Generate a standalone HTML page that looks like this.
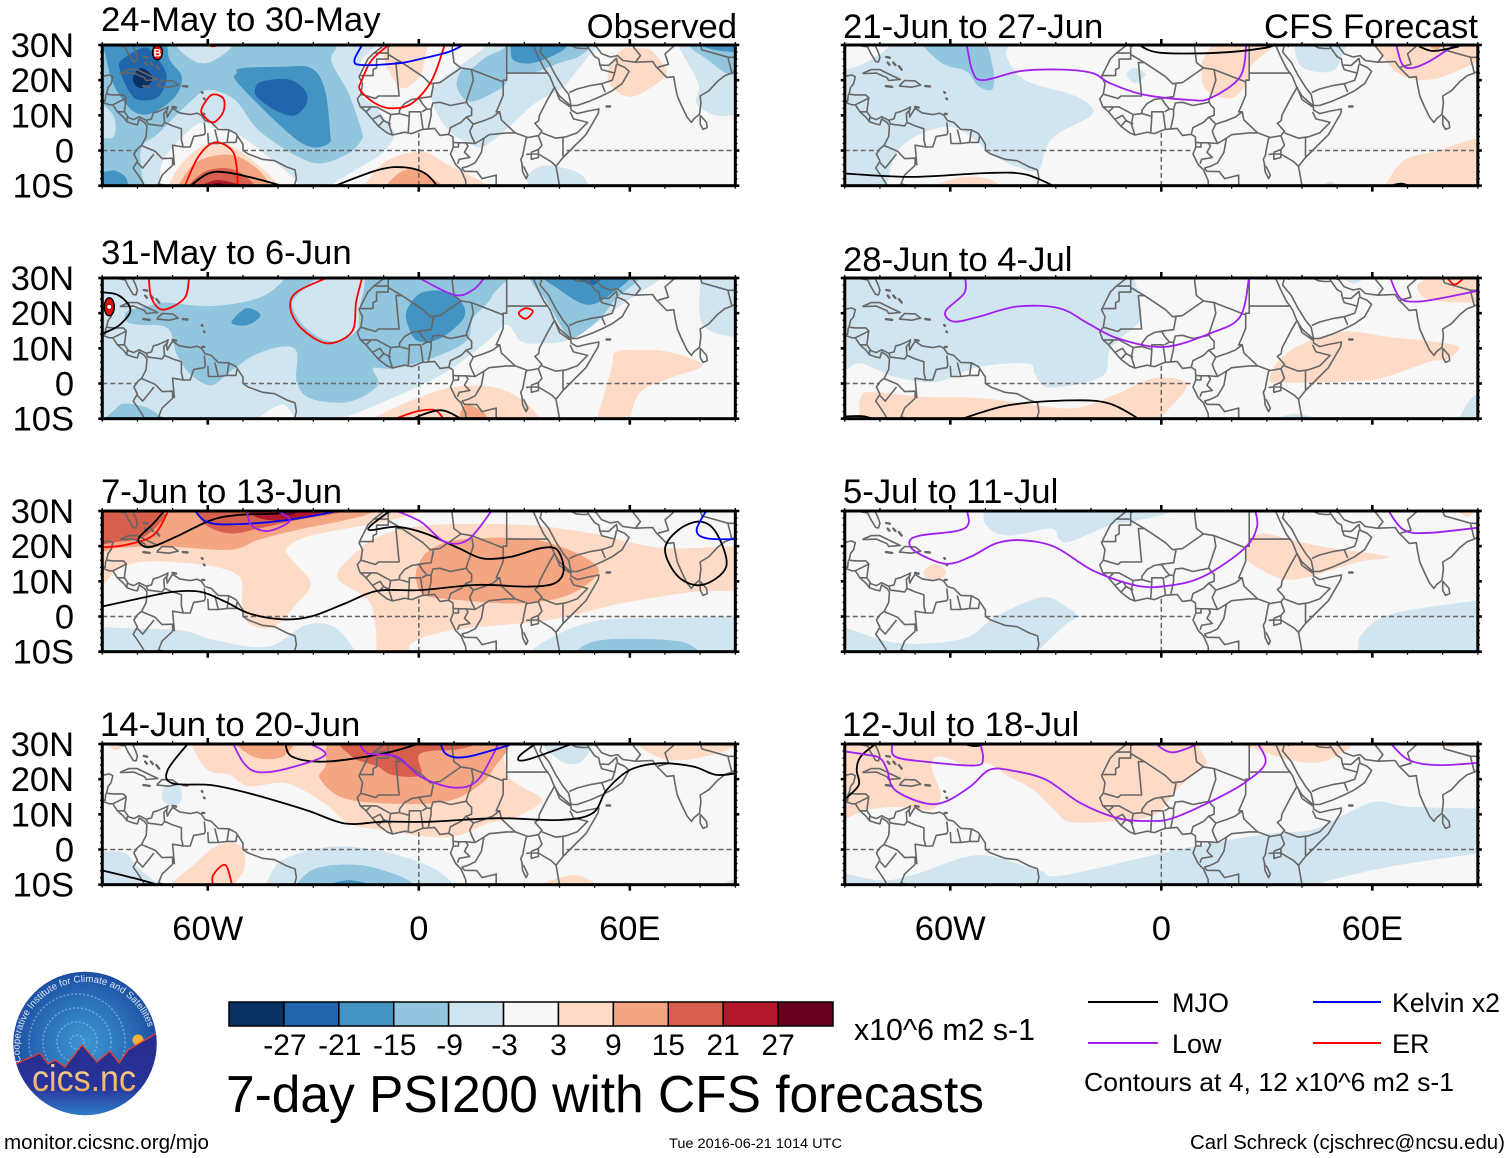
<!DOCTYPE html>
<html lang="en">
<head>
<meta charset="utf-8">
<title>7-day PSI200 with CFS forecasts</title>
<style>
html,body{margin:0;padding:0;background:#fff;}
svg{display:block;}
text{font-family:"Liberation Sans",sans-serif;fill:#000;}
</style>
</head>
<body>
<svg id="chart" xmlns="http://www.w3.org/2000/svg" width="1510" height="1158" viewBox="0 0 1510 1158">
<rect x="0" y="0" width="1510" height="1158" fill="#fff"/>
<g id="panels"></g>

<g font-size="34.7">
<text x="101" y="31">24-May to 30-May</text>
<text x="737" y="38" text-anchor="end">Observed</text>
<text x="101" y="264">31-May to 6-Jun</text>
<text x="101" y="503">7-Jun to 13-Jun</text>
<text x="100" y="736">14-Jun to 20-Jun</text>
<text x="843" y="38">21-Jun to 27-Jun</text>
<text x="1478" y="38" text-anchor="end">CFS Forecast</text>
<text x="843" y="271">28-Jun to 4-Jul</text>
<text x="843" y="503">5-Jul to 11-Jul</text>
<text x="842" y="736">12-Jul to 18-Jul</text>
</g>

<g id="colorbar"></g>
<text x="854" y="1040" font-size="30.3">x10^6 m2 s-1</text>
<text x="226" y="1112" font-size="51.5" textLength="758" lengthAdjust="spacingAndGlyphs">7-day PSI200 with CFS forecasts</text>

<g>
<line x1="1088" y1="1002" x2="1158" y2="1002" stroke="#000" stroke-width="2"/>
<text x="1172" y="1012" font-size="27">MJO</text>
<line x1="1313" y1="1002" x2="1381" y2="1002" stroke="#0000ff" stroke-width="2"/>
<text x="1392" y="1012" font-size="26.6">Kelvin x2</text>
<line x1="1088" y1="1043" x2="1158" y2="1043" stroke="#a020f0" stroke-width="2"/>
<text x="1172" y="1053" font-size="27">Low</text>
<line x1="1313" y1="1043" x2="1381" y2="1043" stroke="#ff0000" stroke-width="2"/>
<text x="1392" y="1053" font-size="27">ER</text>
<text x="1084" y="1091" font-size="26" textLength="370" lengthAdjust="spacingAndGlyphs">Contours at 4, 12 x10^6 m2 s-1</text>
</g>

<text x="4" y="1149" font-size="20" textLength="205" lengthAdjust="spacingAndGlyphs">monitor.cicsnc.org/mjo</text>
<text x="669" y="1148" font-size="13.4" textLength="173" lengthAdjust="spacingAndGlyphs">Tue 2016-06-21 1014 UTC</text>
<text x="1505" y="1149" font-size="20" text-anchor="end" textLength="315" lengthAdjust="spacingAndGlyphs">Carl Schreck (cjschrec@ncsu.edu)</text>

<g>
<defs>
<radialGradient id="sky" cx="0.5" cy="0.5" r="0.55">
<stop offset="0" stop-color="#3f96d4"/><stop offset="0.55" stop-color="#2a70ba"/><stop offset="1" stop-color="#1b479c"/>
</radialGradient>
<linearGradient id="ground" x1="0" y1="0" x2="0" y2="1">
<stop offset="0" stop-color="#2a2a8c"/><stop offset="0.62" stop-color="#27349a"/><stop offset="1" stop-color="#2f88d0"/>
</linearGradient>
<clipPath id="logoClip"><circle cx="85" cy="1043.4" r="71.7"/></clipPath>
<path id="logoArc" d="M 21 1062 A 65 65 0 1 1 150 1034" fill="none"/>
<linearGradient id="nc" x1="0" y1="0" x2="0" y2="1"><stop offset="0" stop-color="#f8dc9c"/><stop offset="1" stop-color="#eda452"/></linearGradient>
</defs>
<circle cx="85" cy="1043.4" r="71.7" fill="url(#sky)"/>
<g clip-path="url(#logoClip)" fill="none" stroke="#a8d0ee" stroke-opacity="0.55" stroke-width="1.5" stroke-dasharray="2 2">
<circle cx="77" cy="1042" r="7"/><circle cx="77" cy="1042" r="20"/><circle cx="77" cy="1042" r="34"/><circle cx="77" cy="1042" r="48"/>
</g>
<circle cx="138" cy="1040" r="5.5" fill="#f5b13d"/>
<g clip-path="url(#logoClip)">
<path d="M8 1066 L18 1063 L40 1053 L48 1064 L55 1060 L65 1067 L82 1045 L97 1062 L110 1051 L119 1063 L128 1050 L157 1033 L165 1120 L8 1120 Z" fill="url(#ground)" stroke="#e8402a" stroke-width="1.3"/>
</g>
<text font-size="9.6" style="fill:#dbe8f6" textLength="200"><textPath href="#logoArc">Cooperative Institute for Climate and Satellites</textPath></text>
<text x="84" y="1091" font-size="37" text-anchor="middle" textLength="104" lengthAdjust="spacingAndGlyphs" style="fill:url(#nc)">cics.nc</text>
</g>
</svg>

<script>
// ---------- colour scale ----------
const bandEdges = [-27,-21,-15,-9,-3,3,9,15,21,27];
const bandColors = ['#0a3163','#2166ac','#4393c3','#92c5de','#d1e5f0','#f7f7f7','#fddbc7','#f4a582','#d6604d','#b2182b','#67001f'];

// ---------- axis labels ----------
const latTickValues = [30,20,10,0,-10];
const latTickLabels = ['30N','20N','10N','0','10S'];
const lonTickValues = [-60,0,60];
const lonTickLabels = ['60W','0','60E'];

// ---------- line styles by wave type ----------
const waveColors = {M:'#000000',L:'#a020f0',K:'#0000ff',E:'#ff0000'};

// ---------- map geometry (lon, lat) ----------
const coastLines = [
[[-81,31],[-81.4,30],[-80.5,28],[-80,26.5],[-80.4,25.2],[-81.2,25.3],[-82.7,27.8],[-83.5,29.5],[-85,29.7],[-87,30.4],[-89.5,30.2],[-90,29.2],[-92,29.5]],
[[-92,18.6],[-90.5,21],[-88,21.5],[-87,21],[-87.5,19],[-88.3,18],[-88.8,16],[-87,15.8],[-84,15.8],[-83.2,15],[-83.6,12],[-83.7,11],[-82.5,9.3],[-81,8.8],[-79.5,9.6],[-77.5,8.6],[-76,9],[-75.5,10.7],[-74.3,11],[-72,12],[-71.3,12.4],[-71.7,11],[-71.5,9.5],[-70.8,10.8],[-70,12],[-68,10.7],[-65,10.2],[-63,10.6],[-61.8,10],[-60.8,8.5],[-59,8],[-57,6],[-54,5.9],[-52,4.8],[-50,1.8],[-50,0],[-48.5,-1],[-44.5,-2.5],[-41,-2.9],[-37.5,-4.7],[-35.2,-5.5],[-34.8,-8],[-35.5,-10.5]],
[[-92,14.5],[-90,13.7],[-88,13],[-87,13],[-85.7,11],[-84,9.5],[-83,8.2],[-81,7.5],[-80,7.3],[-79.5,9],[-78,8],[-77.3,7],[-77.5,4],[-78.8,1.5],[-80,0.5],[-81,-1],[-80,-3],[-81.2,-5],[-79.8,-7],[-78.5,-9],[-77.8,-10.5]],
[[-85,21.9],[-82.5,23],[-80,23],[-77,21.5],[-74.2,20.2],[-77.5,19.9],[-78,20.7],[-81,22],[-84,21.9],[-85,21.9]],
[[-74.4,18.5],[-73,19.9],[-70,19.8],[-68.4,18.6],[-71,18],[-74.4,18.3],[-74.4,18.5]],
[[-9,31.5],[-9.8,30],[-13,27.5],[-14.5,26],[-17,21],[-16,19],[-16.5,16],[-17.5,14.7],[-16.7,12.5],[-15,11],[-13.3,9],[-11.5,6.9],[-9,5],[-7.5,4.4],[-4,5.2],[-2,4.8],[1,6],[4.5,6.3],[6,4.3],[8.5,4.6],[9.7,3.9],[9.8,1],[9,-1],[10.5,-4],[12,-5.5],[13.3,-8.5],[13.5,-11]],
[[39.5,-11],[40,-10],[39.3,-6],[39,-4.5],[41,-2],[44,1],[47.5,4.5],[51,10.5],[51.2,11.8],[48,11.2],[45,10.5],[43.3,11.5],[43.2,12.7],[40,15.5],[38.5,18],[37.3,21],[35.5,23.5],[33.8,27],[32.5,30],[33,31]],
[[34.9,29.5],[34.5,28],[37,25],[38.8,21.5],[41,18],[42.6,16],[43.3,12.8],[45,12.8],[48.5,14],[52.2,15.6],[55,17],[57.8,19],[59.8,22.5],[58.5,23.7],[56.5,24.5],[56.2,26.2],[54,24.2],[51.5,24.3],[51.2,26],[50,26.7],[48,29.5],[48,30.3]],
[[48.5,30.2],[50.5,29.5],[52,27.5],[54.5,26.6],[56.5,27],[58,25.6],[61.5,25.1],[66.5,25.3],[67.5,23.8],[69,22.3],[70.5,20.8],[72.5,21],[72.8,19],[73.5,15.5],[74.8,12.5],[76.3,9.5],[77.5,8],[78.2,9],[79.8,10.3],[80.2,13.5],[80,15.5],[82.5,17],[85,19.7],[87,21.3],[89,22],[90.5,22.8]],
[[80,10],[81.8,8],[82,6.5],[80.8,6],[80,7.5],[80,10]],
[[32,-0.5],[34,0.3],[34,-2],[32,-2.5],[32,-0.5]],
[[29.3,-3.5],[29.5,-6],[30.5,-8],[31,-7],[29.8,-4.5]]
];
const islandBlobs = [
[[-78.3,18.3],[-76.5,18.1]],
[[-67.1,18.3],[-65.8,18.2]],
[[-78.2,26.6],[-77.2,26.4]],[[-77.8,25],[-77.3,24.4]],[[-76.2,25],[-75.6,24.3]],[[-74.6,24],[-73.8,23]],
[[-61.7,16.6],[-61.5,16.4]],[[-61.1,14.8],[-60.9,14.6]],
[[-61.6,10.4],[-61,10.4]],
[[-70,12.4],[-69,12.2]],
[[53.4,12.5],[54.4,12.5]]
];
const borderLines = [
[[-13,27.7],[-8.7,27.7],[-8.7,29.5],[-6,30.5]],
[[-17,21.3],[-13,21.3],[-13,23],[-12,23.5],[-12,26],[-8.7,26],[-8.7,27.7]],
[[-8.7,27.3],[-4.8,25],[-6.5,25],[-5.6,15.5],[-11.5,15.5],[-12.3,14.8],[-16.5,16]],
[[-4.8,25],[1.2,21],[3.2,19],[4.2,19],[3.5,15.3],[0.3,14.9],[-2,14.5],[-4,13.4],[-5.5,11.5],[-5.5,10.5],[-8,10.2],[-12,12.4],[-16.7,12.4]],
[[3.2,19],[6,19.3],[12,23.5],[15,23],[24,19.5],[24,15.7],[22.9,13],[22,11],[23,11]],
[[9.5,30],[9.5,29],[10,25],[12,23.5]],
[[25,31.5],[25,22],[36.9,22]],
[[25,22],[25,20],[24,20],[24,19.5]],
[[15,23],[15.5,20],[13.5,14],[14,13],[15,12],[15,10],[13.5,9.5]],
[[15.5,7.5],[18.5,8.5],[21,9.5],[23,11],[23.5,8.7],[27.4,5],[25,5],[20,4.5],[18.5,3.5],[16,2],[15,4],[14.5,5.5],[15.5,7.5],[13.5,9.5],[12,8],[9,6.5],[8.5,4.6]],
[[38.6,18],[36.5,14.3],[34.3,10],[34.1,8.5],[33,7.7],[35,5.5],[34,4.2],[31,3.7],[27.4,5]],
[[43,12.4],[40,14.5],[38.6,18]],
[[35,5],[39,3.5],[41.9,3.9],[45,5],[48,8],[44,9],[43,11]],
[[41,-1.7],[41,3.9]],
[[34,4.2],[35,1.5],[34,0.3]],
[[34,-1],[37.7,-3.2],[39.2,-4.7]],
[[30.5,3.5],[29.7,-0.5],[29.6,-1.4],[29,-2.5],[29.5,-4.5]],
[[30.5,-1.1],[32,-1],[34,-1]],
[[31,3.7],[30.5,3.5]],
[[40.4,-10.5],[35,-11.5]],
[[12.2,-5],[13,-5.9],[16.5,-6],[18,-8],[22,-7],[22,-11]],
[[12.2,-5],[14,-4.5],[16,-3.5],[17.8,-0.5],[18.5,3.5]],
[[9.8,2.3],[11.3,2.2],[13.3,2.2],[16,2]],
[[11.3,2.2],[11.3,1],[9.8,1]],
[[13.3,2.2],[14,1.3],[13,-0.5],[14.5,-2],[11.5,-2.5],[11,-3.8]],
[[3.5,11.7],[4,13.5],[6,13.7],[9,12.8],[13.5,13.7]],
[[2.7,6.3],[3.5,10],[3.5,11.7],[2.3,11.8],[1,13.3],[0,15]],
[[1.2,6.1],[0.5,11],[0,11]],[[2.3,11.8],[0.9,11]],
[[-3,5],[-2.7,9.7],[-2.7,11],[0,11]],
[[-5.5,10.5],[-2.7,9.7]],
[[-7.5,4.4],[-8.5,7.5],[-8,10.2]],
[[-15,11],[-13.7,12.2]],
[[-11.5,6.9],[-10,8.5],[-8,7.5]],
[[-13,9],[-11,10],[-10,8.5]],
[[36,29.5],[39,32]],[[48,29],[46.5,29],[44.7,29.2],[39,32]],
[[42.8,16.5],[45,17.5],[49,18.5],[52,19],[53,16.6]],
[[52,19],[55,20],[55.7,22],[52,23],[51.5,24.3]],
[[55.7,22],[56.2,24.5]],
[[68,23.7],[71,24.5],[70,27.5],[74,31]],
[[80,30],[80.5,28.6],[88,26.5],[88,26],[88.5,24],[89,22]],
[[88,26.5],[92,26.5]],
[[61.5,25],[63,27],[61,29.5],[60.8,31]],
[[34.3,31],[34.9,29.5]],
[[-71.3,11.8],[-72.5,10.5],[-72.3,8],[-70,7],[-67.5,6.2],[-67.5,3],[-67,1],[-70,1.5],[-69.5,-4.2]],
[[-78.8,1.4],[-75.5,0],[-75,-0.2],[-73,-2.3],[-70,-2.2],[-70,-4.2]],
[[-80,-3.4],[-78.5,-5],[-75.3,-1]],
[[-67,1],[-65,1],[-64,4],[-61,4.5],[-60.7,5.2],[-61,8]],
[[-60,5],[-59.8,2],[-57,2],[-57.5,4],[-58,6]],
[[-54,6],[-54.5,2.3],[-52,2.3],[-51.7,4]],
[[-54.5,2.3],[-57,2]],
[[-70,-4.2],[-73,-7],[-74,-9.5],[-72,-10],[-70.5,-11]],
[[-70.5,-11],[-65.5,-10],[-60,-13]],
[[-77.5,8.6],[-77,7.5],[-73,7],[-72.3,8]],
[[-83.7,11],[-85.7,11]],[[-83,15],[-87,13]],[[-89,15.9],[-89.2,14],[-91,14.5]],[[-82.9,9.5],[-83,8.2]]
];
const equatorSegments = [[-90,-80],[-50,9],[42,90]];
const meridianSegment = [5,-10];

// ---------- panel 1: 24-May to 30-May ----------
const fillsP1 = [
[-6,[[-95,35],[-16,35],[-16.5,25],[-17,17],[-12,12],[-8,7],[-7,4],[-10.6,-1],[-17.2,-5],[-25,-10],[-26,-13],[-33,-13],[-34,-10],[-36,-7.4],[-42.8,-1.8],[-50.4,3.9],[-60,7.7],[-64.6,6.3],[-72.6,-2.7],[-73.6,-10],[-74,-13],[-95,-13]]],
[-6,[[19,35],[19.3,30],[5,19],[4,13.4],[8.4,5.8],[15,1.6],[18,1],[22.6,4],[27.3,8.2],[33,13.4],[40.6,17.7],[44.4,22],[49,27.7],[50.6,30],[50,35]]],
[-6,[[73.8,35],[73.8,30],[79.5,19],[79,13.4],[84.2,10],[89.4,10],[95,10],[95,35]]],
[-6,[[30.7,-7.4],[34.9,-4.4],[41.6,-5],[46.3,-7],[48.2,-10],[48,-13],[33,-13],[31.5,-10]]],
[-12,[[-95,35],[-71,35],[-68.8,29.5],[-63.6,25.3],[-58.9,25.3],[-53.2,29.5],[-52,35],[-23,35],[-23.4,29.5],[-24.8,25.3],[-20,16.3],[-16.3,5.8],[-16.3,3],[-20,-0.8],[-27.6,-3.6],[-34.3,-1.8],[-45.6,5.8],[-52.3,14.4],[-59.8,17.2],[-65.5,13.4],[-74,4.9],[-78.8,1],[-78.8,-6.5],[-77.9,-10],[-78,-13],[-95,-13],[-95,3],[-90,3.5],[-86.8,3.9],[-86.4,8.7],[-89.2,12.5],[-95,14]]],
[-12,[[24,35],[24.5,29.5],[19.3,26.7],[15,23.4],[12.2,22.9],[10.8,18.2],[14.6,13.9],[22.6,17.2],[25,19.5],[25,22],[32,22],[39.7,24.8],[45.4,26.7],[49,30],[49,35]]],
[-12,[[76,35],[76.6,30],[82.3,25.7],[86.6,22.4],[89.4,21.5],[95,21],[95,35]]],
[-18,[[-91,33],[-89.2,27.6],[-86.9,19],[-81.6,11.5],[-76,10.6],[-69.3,15.3],[-67.4,21],[-70.8,25.7],[-74,33]]],
[-18,[[-51.8,22],[-50.4,23.4],[-39,23.8],[-30.5,23.4],[-26.7,17.2],[-25.2,4.9],[-25.7,2],[-30.5,1],[-37,4.9],[-51.3,19]]],
[-18,[[-95,-6],[-89.7,-6],[-86.4,-5.7],[-83.5,-7.4],[-82.6,-10],[-82,-13],[-95,-13]]],
[-18,[[25,33],[26,29.5],[26.9,25.7],[32,24.8],[38.7,27.2],[42,29.5],[43,33]]],
[-18,[[80,33],[80.4,30],[84.2,28.6],[89.4,28],[95,28],[95,33]]],
[-24,[[-85,22.9],[-84.5,25.7],[-77.9,29.3],[-74,25.7],[-71.7,21],[-74,15.3],[-79.7,14.4],[-82.6,17.2]]],
[-24,[[-46.6,17.2],[-44.7,19.6],[-37,20.2],[-32.4,17.2],[-31.9,13.4],[-35.2,10],[-40,11],[-45.6,14.8]]],
[-30,[[-81.2,21],[-79.3,23.4],[-76.4,22],[-76,19.6],[-78.8,17.7],[-80.9,19]]],
[6,[[-72,-13],[-71.2,-10],[-67.4,-3.6],[-60.8,1.6],[-54.2,1.6],[-47.5,-2.7],[-39.5,-10],[-39,-13]]],
[12,[[-69,-13],[-68.4,-10],[-63.6,-3.6],[-57,-1.3],[-51.3,-1.8],[-45.6,-5.5],[-42.3,-10],[-42,-13]]],
[18,[[-66,-13],[-65.5,-10],[-60.8,-6],[-55,-5],[-50.4,-6.5],[-46.6,-10],[-46,-13]]],
[24,[[-62,-12],[-61.7,-10],[-57,-8.4],[-50.5,-10],[-50,-12]]],
[30,[[-60,-11],[-57,-9.2],[-53,-11]]],
[6,[[-16,-13],[-14.4,-8.4],[-8.7,-2.7],[1,-0.3],[8.4,-4.1],[19.8,-10],[20,-13]]],
[12,[[-10,-13],[-8.7,-9.3],[-4.9,-6],[-1,-5.4],[4.6,-8.4],[6.5,-10],[7,-13]]],
[6,[[-10.5,33],[-9.5,25],[-8.7,22.9],[-4.9,17.7],[-0.1,20.5],[1.5,25],[1.5,33]]],
[6,[[57.7,28.6],[53.9,22.9],[54.8,18.2],[60.5,15.3],[69,20],[70.5,22.9],[67,27.6],[64.3,29]]]
];
const linesP1 = [
['E',true,[[-61.7,12],[-58.9,15.8],[-55.6,14.8],[-55.6,11],[-58.4,8],[-61.3,10]]],
['E',false,[[-66.7,-10.5],[-62.7,-1.8],[-58,2.3],[-53.2,0.1],[-51.8,-4.6],[-51.5,-10.5]]],
['E',false,[[-8,30.5],[-13.4,25.7],[-16.2,20],[-16.7,17.2],[-12.4,13.4],[-7.7,12],[-2,13.4],[3.7,20],[7.5,30.5]]],
['E',false,[[-61,30.5],[-58.5,29.6],[-56,30.5]]],
['K',false,[[-15.8,30.5],[-18.3,25.7],[-16.2,24.3],[-5.8,24.8],[-1,25.7],[8.4,28],[13.6,30.5]]],
['M',false,[[-65.5,-10.5],[-59.8,-6.5],[-54.2,-6.3],[-44.7,-8.4],[-37.6,-10.5]]],
['M',false,[[-25,-10.5],[-11.5,-5.5],[-3.9,-4.8],[1.8,-6.5],[5.6,-10.5]]]
];

// ---------- panel 2: 31-May to 6-Jun ----------
const fillsP2 = [
[-6,[[-95,35],[74,35],[68.4,29.5],[59,23.3],[44,13],[34.5,11.4],[29,12],[25,16.7],[19.5,12],[9.4,4.3],[0.5,-0.5],[-15.7,-7.6],[-24,-10],[-34,-10],[-38.8,-6],[-46,-10],[-50,-13],[-95,-13]]],
[-6,[[80,35],[80,30],[80,18.6],[83.3,14.8],[89.4,13.3],[95,13],[95,35]]],
[-12,[[-83,20.5],[-77,22],[-72,23],[-59,22],[-45.6,24.3],[-38.8,29],[-37,33],[21,33],[20.9,25],[15.5,18.6],[13.4,12],[3.3,7],[-7.6,4.3],[-13,4.3],[-11.7,-0.5],[-19.8,-5.2],[-30.7,-4.3],[-34.7,0.5],[-34.7,9],[-38.8,10.5],[-47,8],[-53.7,3.3],[-59,-0.5],[-64.6,2.4],[-68.7,8],[-71.4,15.7],[-79.5,16.7],[-83,17.6]]],
[-6,[[-34.7,25],[-26.6,31],[-16,31],[-17,20.5],[-17.8,14.8],[-25,12],[-32,15.7],[-35.8,21.4]]],
[-12,[[32,35],[32,29],[36,24],[40,17],[43,13],[46,14],[52,19],[56,24],[63,30],[65,35]]],
[-12,[[-90,-13],[-86,-7],[-83,-5.7],[-77,-7],[-73,-10],[-72,-13]]],
[-18,[[-3.5,20.5],[0.5,25.7],[7.3,26.2],[12,23.3],[12.8,18.6],[6,12.8],[-0.1,12],[-2.8,15.7]]],
[-18,[[-53,18],[-49,21.4],[-45,19.5],[-48.3,16.7],[-52.4,16.7]]],
[-18,[[36.5,31],[40,26.7],[48,22.4],[55,25.7],[59,31]]],
[-24,[[44,31],[49.4,28],[52,31]]],
[6,[[-14,-13],[-13,-10],[-0.8,-4.3],[10,-1],[21,-1],[29,-4.3],[34.5,-10],[35,-13]]],
[12,[[11,-13],[11.4,-10],[13.4,-6],[18.2,-8],[19.5,-10],[20,-13]]],
[6,[[50,-13],[50.7,-10],[54.8,4.3],[56,9],[63,9.5],[71,9],[80.6,5.2],[71,1.4],[63,-2.4],[60,-10],[59,-13]]]
];
const linesP2 = [
['E',false,[[-76.8,30.5],[-76,24.3],[-72.7,21],[-66.6,24.3],[-65.3,30.5]]],
['E',false,[[-25,30.5],[-34.7,26],[-36.5,21.4],[-33.4,15.7],[-26,11.4],[-19,14.8],[-17.8,23.3],[-16,30.5]]],
['E',true,[[28.4,20],[30.4,21.4],[32.4,20.5],[30.4,18.4]]],
['E',false,[[-8,-10.5],[-0.8,-8],[4.6,-7.6],[7.3,-10.5]]],
['M',false,[[-3,-10.5],[6,-7.6],[12.8,-10.5]]],
['L',false,[[-0.8,30.5],[10,25.2],[15.5,26.7],[19,30.5]]],
['M',false,[[-92,26],[-85.6,25.2],[-82,21],[-85,16.7],[-89.6,14.3]]]
];

// ---------- panel 3: 7-Jun to 13-Jun ----------
const fillsP3 = [
[6,[[-95,35],[1,35],[0.5,30],[-10,27],[-30.7,23],[-37.5,19.4],[-36,16],[-30.7,9.4],[-35,3.3],[-41.5,-3],[-48.3,-2],[-50.3,3.8],[-51,11.3],[-60.5,14.6],[-78,15.6],[-85.8,13.2],[-89.6,9.4],[-95,9]]],
[6,[[-23.2,11.3],[-17,19],[-10.3,23.2],[3.3,26],[30.4,26],[49.4,23.6],[59,21.3],[71,19.4],[90,20],[95,20],[95,8.5],[78,7],[57.5,3.7],[37,-1],[10,-3.8],[-2,-7.6],[-2.8,-13],[-11,-13],[-12.3,-3],[-14.4,4.7]]],
[12,[[-95,19],[-85,19.5],[-72.7,20],[-53.7,19],[-45.6,21.8],[-34.7,24.6],[-21,27.4],[-13,30],[-13,35],[-95,35]]],
[12,[[0,15],[3.3,19],[11.4,21.8],[30.4,22.2],[42.6,19],[50.7,14.2],[49.4,10.4],[41.2,5.6],[27.7,3.7],[11.4,4.7],[1.9,6],[-0.8,10.4]]],
[18,[[-72,35],[-72.7,30],[-72,28.4],[-78,22.7],[-85,21.3],[-95,21.3],[-95,35]]],
[18,[[-64,31],[-60.5,26],[-53.7,23.6],[-45.6,25],[-34.7,27.4],[-21,30],[-20,33],[-64,33]]],
[24,[[-49,31],[-45.6,28],[-37.5,27.4],[-26.6,30],[-26,33],[-49,33]]],
[30,[[-42,31.5],[-37,28.8],[-32,31.5]]],
[-6,[[-95,-3],[-90,-3],[-80,-3.5],[-67,-4],[-58,-6.7],[-43,-8.6],[-32,-2.4],[-24,-3],[-18,-10],[-18,-13],[-95,-13]]],
[-6,[[31,-13],[31.7,-10],[40,-4.8],[52,-1],[71,-0.5],[90,0],[95,0],[95,-13]]],
[-12,[[44,-13],[44.6,-10],[52,-6.7],[71,-6.7],[78,-8.6],[79,-13]]]
];
const linesP3 = [
['E',false,[[-92,19.6],[-83.6,20.3],[-75.4,23.2],[-71,30.5]]],
['M',false,[[-72,30.5],[-75.4,26.5],[-79.5,22.5],[-79,20.5],[-76,19.8],[-69,22.7],[-59,27.4],[-51,28.9],[-40,29.3],[-36,30.5]]],
['M',false,[[-7.6,30.5],[-14.4,24.8],[-6.2,25.5],[1.9,23.6],[11.4,19.4],[18.2,16.5],[26.3,17],[34.5,19.4],[39.3,19],[41.2,13.2],[38.5,9.4],[30.4,8.5],[16.8,9],[0.5,7.5],[-11.7,7.3],[-21,3.7],[-30.7,0],[-38.8,-0.8],[-48.3,0.9],[-55,4.2],[-62,7],[-70,7],[-80,5],[-92,2.4]]],
['M',true,[[80,27],[84.7,23.6],[87.4,14.2],[80.6,9],[73.8,11.3],[70,19],[73.8,24.6]]],
['K',false,[[-64,30.5],[-60.5,27],[-53.7,26.2],[-37.5,27.4],[-20.5,30.5]]],
['K',false,[[82,30.5],[79,24.6],[82,22.2],[91,22]]],
['L',false,[[-49,30.5],[-47.6,26],[-42.9,24.3],[-36.8,27],[-38.8,29.3],[-42,30.5]]],
['L',false,[[-7.6,30.5],[0.5,27],[7.3,21.3],[14,21.8],[21,30.5]]]
];

// ---------- panel 4: 14-Jun to 20-Jun ----------
const fillsP4 = [
[6,[[-65,35],[-64.6,30],[-61.8,24.5],[-59,22],[-53.7,21.2],[-48.3,18],[-37.5,18.8],[-26.6,13],[-20,7.4],[-10,5.5],[3.3,3.6],[11.4,4],[19.6,7.4],[27.7,9.3],[35,14],[29,18],[25,21.6],[24,30],[24,35]]],
[6,[[-90,32],[-86,28.3],[-82,32]]],
[6,[[63,31],[71,25.4],[84.7,27.3],[90,31]]],
[-6,[[34.5,32],[40,25.4],[45.3,24.5],[48.7,28.3],[49,32]]],
[12,[[-52.4,32],[-47,26.4],[-38.8,26.4],[-36,32]]],
[12,[[-21,33],[-26.6,23.6],[-28,20],[-21,14.5],[-6,13],[7.3,13.6],[15.5,17],[21,22.6],[23,33]]],
[18,[[-20,32],[-19,26.4],[-11.7,23.6],[-7.6,21.2],[0.5,21.2],[0.5,27.3],[12.8,28.8],[17,32]]],
[6,[[-72,-13],[-70.7,-10],[-64.6,-4.9],[-58,0.8],[-52.4,1.8],[-49.7,-0.5],[-49.7,-5.7],[-52.4,-10],[-53,-13]]],
[6,[[33,-13],[34.5,-10],[44,-7.3],[50.7,-10],[52,-13]]],
[-6,[[-95,-0.6],[-90,-0.6],[-83.6,-1],[-80,-5],[-74,-10],[-72,-13],[-95,-13]]],
[-6,[[-73,14.6],[-72,18],[-68,18],[-67.6,14],[-70,12]]],
[-6,[[-45,-13],[-43.5,-10],[-38.8,-3],[-25,0.8],[-10,-0.6],[3.3,-4.9],[10,-10],[11,-13]]],
[-12,[[-36,-13],[-35,-10],[-29,-5.3],[-17,-4.4],[-6,-7.3],[-1.5,-10],[-1,-13]]],
[-18,[[-27,-11],[-19.8,-8.7],[-12,-11]]],
[-6,[[85,-11],[90,-8.5],[93,-11]]]
];
const linesP4 = [
['M',false,[[-65.3,30.5],[-71.4,22.6],[-70,18.8],[-59,18.3],[-48.3,16],[-32,11.2],[-21,7.4],[-10,7.9],[3.3,7.9],[22.3,8.9],[40,8.4],[49.4,10.3],[53.4,16.9],[60,22.6],[68.4,24.5],[78,23.6],[84.7,21.2],[92,22]]],
['M',false,[[-38,30.5],[-36,26.4],[-26.6,25],[-10,27.3],[1.3,30.5]]],
['M',false,[[33.5,30.3],[29,27],[28.4,25.4],[31,25.6],[37,27.6],[44,30.2]]],
['M',false,[[-92,-5.5],[-80.8,-8.2],[-72.7,-10.5]]],
['L',false,[[-53,30.5],[-49.7,24.5],[-45.6,22],[-37.5,23],[-26.6,26.9],[-32,30.5]]],
['L',false,[[-17,30.5],[-14.4,27.3],[-6.2,26.4],[0.5,20.7],[10,17.6],[16.8,19.8],[22.9,30.5]]],
['K',false,[[6,30.5],[8,27],[14,26.4],[28.4,30.5]]],
['E',false,[[-58.5,-10.5],[-58.5,-7.3],[-55,-4.4],[-53,-10.5]]]
];

// ---------- panel 5: 21-Jun to 27-Jun ----------
const fillsP5 = [
[-6,[[-95,22],[-90,23],[-84,25],[-77,30],[-77,35],[-44.7,35],[-44,26.8],[-38.7,20],[-24.3,15.4],[-19.5,10.6],[-29,5],[-32.7,1],[-35,-5.6],[-41,-4.7],[-47,-1.8],[-51.9,2],[-57.8,6.3],[-63.8,6.3],[-71.6,3],[-75.8,-1.8],[-78,-10],[-78,-13],[-95,-13]]],
[-12,[[-68,32],[-62.6,25],[-55.4,22.5],[-51.9,18.2],[-48,17.5],[-48,24],[-51.9,32]]],
[6,[[14,35],[14,30],[11.4,24],[12.8,17.3],[20,14.9],[24.8,20],[25.4,24],[32,30],[32,35]]],
[-6,[[-9.9,21.6],[-7.5,23.5],[-4.5,21.6],[-7.5,19.2]]],
[-6,[[39,32],[39,25],[42.8,22.6],[48.7,22.6],[51,26],[52,32]]],
[6,[[63.7,32],[64.3,25],[70.3,20.6],[78.7,20.6],[89.5,25],[95,27],[95,32]]],
[12,[[75.7,31],[78,28.7],[81,31]]],
[6,[[63,-13],[63.7,-10],[69,-2.8],[78.7,0],[89.5,3.4],[95,3],[95,-13]]],
[6,[[-65,-13],[-64.4,-10],[-56.6,-7.5],[-49.5,-8],[-45.9,-10],[-45,-13]]],
[-6,[[45,-11],[48,-8.8],[51,-11]]]
];
const linesP5 = [
['L',false,[[-55.4,30.5],[-53.7,22.6],[-50.7,20],[-39.9,22.6],[-27.9,23],[-19.5,22],[-14.7,19.2],[-5.1,15.9],[8,14.4],[14,14.9],[22.4,21],[24.2,30.5]]],
['L',false,[[66.7,30.5],[68.5,24.5],[71.5,23.5],[76.3,25.4],[82.3,29.2],[85,30.5]]],
['M',false,[[-6.3,30],[-0.4,27.8],[16.4,27.8],[29.6,29.2],[33,30.5]]],
['M',false,[[-92,-6.4],[-71,-7.5],[-49.5,-6.4],[-38.7,-6.8],[-29.7,-10.5]]],
['M',false,[[64,-10.5],[68,-9.4],[72,-10.5]]],
['M',false,[[73.3,29.6],[77.5,28.3],[84.7,29.6]]]
];

// ---------- panel 6: 28-Jun to 4-Jul ----------
const fillsP6 = [
[-6,[[-7,35],[-7.5,30],[-5.7,19],[-11,13.3],[-14.7,9.5],[-16,2.8],[-23,0],[-32.7,-1],[-36,2.8],[-38,5.7],[-52,4.7],[-63.8,0.5],[-75.8,1.9],[-85.4,5.7],[-90,3.8],[-95,3.8],[-95,35]]],
[-6,[[51,32],[54.7,28.4],[59.5,32]]],
[-6,[[32,-11],[38,-8.6],[46,-11]]],
[-6,[[84,-13],[84.7,-10],[87,-5.7],[89.5,-3.3],[95,-3],[95,-13]]],
[6,[[-87,-13],[-86,-10],[-85.4,-3.8],[-81.8,-2.4],[-67.4,-3.8],[-49.5,-4.3],[-26.7,-7.1],[-14.7,-3.8],[-2.8,1.4],[5.6,1],[6.8,-1.9],[-0.4,-10],[-1,-13]]],
[6,[[30.8,1],[34.4,7.6],[42.8,12.4],[52.3,14.8],[64.3,13.3],[81,11.4],[84.7,10],[81,6.7],[76.3,6.2],[62,1.4],[50,0.5],[35.6,0.2]]],
[6,[[75,35],[75,30],[72.7,27.6],[76.3,23.8],[89.5,22.9],[95,22.9],[95,35]]]
];
const linesP6 = [
['L',false,[[-55.8,30.5],[-56,25.7],[-61.4,20.5],[-59,17.6],[-51.9,19],[-41,21.9],[-29,21.4],[-20.7,17],[-12.3,12.8],[0.8,10.4],[14,14.3],[22.4,19],[25,30.5]]],
['L',false,[[64.9,30.5],[67.9,24.3],[72.7,23.3],[79.9,24.3],[92,26.8]]],
['E',false,[[81,30.5],[83.4,28.1],[86.5,30.5]]],
['M',false,[[-58,-10.5],[-43.5,-6.2],[-25.5,-4.8],[-14.7,-5.7],[-5.7,-10.5]]],
['M',false,[[-92,-9.5],[-85,-9.3],[-81,-10.5]]]
];

// ---------- panel 7: 5-Jul to 11-Jul ----------
const fillsP7 = [
[-6,[[-51,35],[-50.7,30],[-49.5,25.5],[-43.5,23],[-31.5,25],[-29,22],[-26,21.2],[-14.7,26],[-8.7,27],[3.2,30],[3,35]]],
[-6,[[-95,-3],[-90,-3.2],[-79,-6.8],[-69.8,-7.8],[-55.4,-6],[-47,0],[-33.9,5.5],[-26.7,2.6],[-24.3,0],[-28,-3],[-35,-10],[-35,-13],[-95,-13]]],
[-6,[[56,-13],[56,-10],[57,-5],[65.5,0.7],[89.5,4.5],[95,4.5],[95,-13]]],
[6,[[24.2,20.7],[28.4,23.6],[35.6,22.2],[46.3,19.8],[63,17.4],[63.7,16.5],[56,15.5],[41.6,11.2],[34.4,10.7],[27.2,14],[24.2,16.5]]],
[6,[[-67.4,13.1],[-64.4,15],[-61.4,13.1],[-62,11.2],[-65,10.5],[-67,11.2]]],
[6,[[83.5,31],[87,28.4],[89.5,31]]]
];
const linesP7 = [
['L',false,[[-55.4,30.5],[-54.8,26.5],[-57.8,24.4],[-68.6,23],[-71.6,21.3],[-69.8,18.4],[-61.4,15],[-54.2,17],[-47,20.8],[-39.9,21.7],[-30.3,19.8],[-19.5,13.1],[-7.5,8.9],[0.8,8.6],[11.6,11.2],[23.6,19.3],[27.2,25.5],[26.6,30.5]]],
['L',false,[[64.3,30.5],[69,24.6],[76.3,23.8],[92,25.5]]]
];

// ---------- panel 8: 12-Jul to 18-Jul ----------
const fillsP8 = [
[6,[[-95,8.5],[-90,8.8],[-83.9,11.2],[-75.4,12.1],[-65.8,11.2],[-63,14],[-63,17],[-65.3,23.6],[-63,26.5],[-55.4,24],[-49.5,24.6],[-43.5,20.8],[-36.5,17],[-30.3,11.2],[-26.2,7.9],[-14.7,7.9],[-7.5,8.4],[-0.4,10.8],[4.4,17],[12.2,23.6],[12.8,25.4],[10.4,30],[10,35],[-95,35]]],
[6,[[20.6,32],[28.4,28],[40.4,24.8],[48.7,26],[53.5,32]]],
[6,[[70,31],[82,29.2],[92,31]]],
[-6,[[-95,-6.5],[-90,-6.9],[-79,-8.8],[-69.6,-6.9],[-51.9,-1.6],[-35,-5.9],[-27.9,-7.3],[4.4,-0.1],[28.4,4.2],[42.8,5.6],[51,9.4],[60.7,13.6],[70.3,12.2],[89.5,11.7],[95,11.7],[95,-0.7],[89.5,-1.2],[64.3,-5],[44,-10],[44,-13],[-95,-13]]]
];
const linesP8 = [
['M',false,[[-80.6,30.5],[-85.4,26.5],[-86.6,22.7],[-86,18.4],[-89.6,14.6]]],
['M',false,[[-57,30.3],[-53,29.4],[-49,30.3]]],
['L',false,[[-76.4,30.5],[-75.8,26.5],[-67.4,25],[-53,23.9],[-50.7,26],[-51.6,30.5]]],
['L',false,[[-92,28.2],[-84,27],[-80,26],[-78,22.7],[-75.8,17],[-67.4,13.2],[-61.4,13.6],[-54.2,18],[-48.8,22.7],[-42.3,22.4],[-32.7,19.8],[-23,13.2],[-12.3,8.9],[-2.8,8.1],[3.2,8.9],[14,13.6],[23.6,18.9],[29.6,24.6],[27.2,30.5]]],
['L',false,[[-2.2,30.5],[3.2,27.6],[11.6,30.5]]],
['L',false,[[64.9,30.5],[70.3,25.5],[78.7,24],[92,24.8]]]
];

// ---------- build ----------
const NS = 'http://www.w3.org/2000/svg';
function mk(tag, attrs){
  const el = document.createElementNS(NS, tag);
  for (const k in attrs) el.setAttribute(k, attrs[k]);
  return el;
}
const PX_PER_DEG = 3.517;
function colorFor(v){
  let i = 0;
  while (i < bandEdges.length && v > bandEdges[i]) i++;
  return bandColors[i];
}
function smoothPath(pts, closed){
  const n = pts.length;
  const at = i => closed ? pts[(i + n) % n] : pts[Math.max(0, Math.min(n - 1, i))];
  let d = 'M' + pts[0][0].toFixed(1) + ' ' + pts[0][1].toFixed(1);
  const last = closed ? n : n - 1;
  for (let i = 0; i < last; i++){
    const p0 = at(i - 1), p1 = at(i), p2 = at(i + 1), p3 = at(i + 2);
    const c1x = p1[0] + (p2[0] - p0[0]) / 6, c1y = p1[1] + (p2[1] - p0[1]) / 6;
    const c2x = p2[0] - (p3[0] - p1[0]) / 6, c2y = p2[1] - (p3[1] - p1[1]) / 6;
    d += 'C' + c1x.toFixed(1) + ' ' + c1y.toFixed(1) + ' ' + c2x.toFixed(1) + ' ' + c2y.toFixed(1) + ' ' + p2[0].toFixed(1) + ' ' + p2[1].toFixed(1);
  }
  return d + (closed ? 'Z' : '');
}
function polyPath(pts){
  return 'M' + pts.map(p => p[0].toFixed(1) + ' ' + p[1].toFixed(1)).join('L');
}

const root = document.getElementById('panels');
const panelDefs = [
  {fills:fillsP1, lines:linesP1, col:0, row:0, name:'panel-24-may', ylab:true, xlab:false},
  {fills:fillsP2, lines:linesP2, col:0, row:1, name:'panel-31-may', ylab:true, xlab:false},
  {fills:fillsP3, lines:linesP3, col:0, row:2, name:'panel-7-jun', ylab:true, xlab:false},
  {fills:fillsP4, lines:linesP4, col:0, row:3, name:'panel-14-jun', ylab:true, xlab:true},
  {fills:fillsP5, lines:linesP5, col:1, row:0, name:'panel-21-jun', ylab:false, xlab:false},
  {fills:fillsP6, lines:linesP6, col:1, row:1, name:'panel-28-jun', ylab:false, xlab:false},
  {fills:fillsP7, lines:linesP7, col:1, row:2, name:'panel-5-jul', ylab:false, xlab:false},
  {fills:fillsP8, lines:linesP8, col:1, row:3, name:'panel-12-jul', ylab:false, xlab:true}
];

panelDefs.forEach(function(def, idx){
  const ox = def.col === 0 ? 0 : 742.5;
  const oy = [45, 278, 511, 744][def.row];
  const X = lon => ox + 418.8 + lon * PX_PER_DEG;
  const Y = lat => oy + (30 - lat) * PX_PER_DEG;
  const proj = pts => pts.map(p => [X(p[0]), Y(p[1])]);
  const g = mk('g', {});
  
  
  root.appendChild(g);

  const clipId = 'clip' + idx;
  const cp = mk('clipPath', {id: clipId});
  cp.appendChild(mk('rect', {x: X(-90), y: Y(30), width: X(90) - X(-90), height: Y(-10) - Y(30)}));
  g.appendChild(cp);

  const plot = mk('g', {'clip-path': 'url(#' + clipId + ')'});
  
  
  g.appendChild(plot);

  const bg = mk('rect', {x: X(-90), y: Y(30), width: X(90) - X(-90), height: Y(-10) - Y(30), fill: bandColors[5]});
  
  
  plot.appendChild(bg);

  def.fills.forEach(function(f){
    const p = mk('path', {d: smoothPath(proj(f[1]), true), fill: colorFor(f[0]), stroke: 'none'});
    
    
    plot.appendChild(p);
  });

  equatorSegments.forEach(function(s){
    const l = mk('line', {x1: X(s[0]), y1: Y(0), x2: X(s[1]), y2: Y(0), stroke: '#666', 'stroke-width': 1.5, 'stroke-dasharray': '5 3'});
    
    
    plot.appendChild(l);
  });
  const mer = mk('line', {x1: X(0), y1: Y(meridianSegment[0]), x2: X(0), y2: Y(meridianSegment[1]), stroke: '#666', 'stroke-width': 1.5, 'stroke-dasharray': '5 3'});
  
  
  plot.appendChild(mer);

  const map = mk('path', {d: coastLines.concat(borderLines).map(l => polyPath(proj(l))).join(''), fill: 'none', stroke: '#666', 'stroke-width': 1.6, 'stroke-linejoin': 'round'});
  
  
  plot.appendChild(map);

  const islands = mk('path', {d: islandBlobs.map(l => polyPath(proj(l))).join(''), fill: 'none', stroke: '#666', 'stroke-width': 2.4, 'stroke-linecap': 'round'});
  
  
  plot.appendChild(islands);

  def.lines.forEach(function(c){
    const p = mk('path', {d: smoothPath(proj(c[2]), c[1]), fill: 'none', stroke: waveColors[c[0]], 'stroke-width': 1.8});
    
    
    plot.appendChild(p);
  });

  // frame and ticks
  const ticks = [];
  for (let lon = -90; lon <= 90; lon += 10){
    const major = lon % 60 === 0 && lon !== -90 && lon !== 90;
    const len = major ? 6 : 3;
    ticks.push([X(lon), Y(30), X(lon), Y(30) - len, major ? 2.6 : 1.3]);
    ticks.push([X(lon), Y(-10), X(lon), Y(-10) + len, major ? 2.6 : 1.3]);
  }
  for (let lat = -10; lat <= 30; lat += 2){
    const major = lat % 10 === 0;
    const len = major ? 4 : 2.2;
    ticks.push([X(-90) - len, Y(lat), X(-90) + 1, Y(lat), major ? 2.6 : 1.4]);
    ticks.push([X(90) + len, Y(lat), X(90) - 1, Y(lat), major ? 2.6 : 1.4]);
  }
  const tickGroup = mk('g', {stroke: '#000'});
  
  
  ticks.forEach(function(t){
    tickGroup.appendChild(mk('line', {x1: t[0], y1: t[1], x2: t[2], y2: t[3], 'stroke-width': t[4]}));
  });
  g.appendChild(tickGroup);

  const frame = mk('rect', {x: X(-90), y: Y(30), width: X(90) - X(-90), height: Y(-10) - Y(30), fill: 'none', stroke: '#000', 'stroke-width': 3});
  
  
  g.appendChild(frame);

  if (def.ylab){
    latTickValues.forEach(function(v, i){
      const t = mk('text', {x: 74, y: Y(v) + 12, 'font-size': 34.5, 'text-anchor': 'end'});
      t.textContent = latTickLabels[i];
      
      
      g.appendChild(t);
    });
  }
  if (def.xlab){
    lonTickValues.forEach(function(v, i){
      const t = mk('text', {x: X(v), y: 940, 'font-size': 34.5, 'text-anchor': 'middle'});
      t.textContent = lonTickLabels[i];
      
      
      g.appendChild(t);
    });
  }

  // storm markers
  if (idx === 0){
    const m = mk('ellipse', {cx: X(-74.3), cy: Y(27.9), rx: 5, ry: 7.5, fill: '#d81010', stroke: '#000', 'stroke-width': 1.2});
    
    
    plot.appendChild(m);
    const b = mk('text', {x: X(-74.3), y: Y(27.9) + 4, 'font-size': 11, 'font-weight': 'bold', 'text-anchor': 'middle', style: 'fill:#fff'});
    b.textContent = 'B';
    
    
    plot.appendChild(b);
  }
  if (idx === 1){
    const m = mk('ellipse', {cx: X(-88), cy: Y(21.8), rx: 5, ry: 9, fill: '#e01010', stroke: '#000', 'stroke-width': 1.4});
    
    
    plot.appendChild(m);
    const c = mk('circle', {cx: X(-88), cy: Y(21.8), r: 2.6, fill: '#fff', stroke: '#900', 'stroke-width': 1});
    
    
    plot.appendChild(c);
  }
});

// colorbar
const cb = document.getElementById('colorbar');
const cbLeft = 229, cbWidth = 604, cbTop = 1002, cbHeight = 24;
const boxW = cbWidth / bandColors.length;
bandColors.forEach(function(col, i){
  const r = mk('rect', {x: cbLeft + i * boxW, y: cbTop, width: boxW, height: cbHeight, fill: col, stroke: '#000', 'stroke-width': 1.5});
  
  
  cb.appendChild(r);
});
bandEdges.forEach(function(v, i){
  const t = mk('text', {x: cbLeft + (i + 1) * boxW + (v < 0 ? 1 : 0), y: 1055, 'font-size': 30, 'text-anchor': 'middle'});
  t.textContent = String(v);
  
  
  cb.appendChild(t);
});
</script>
</body>
</html>
